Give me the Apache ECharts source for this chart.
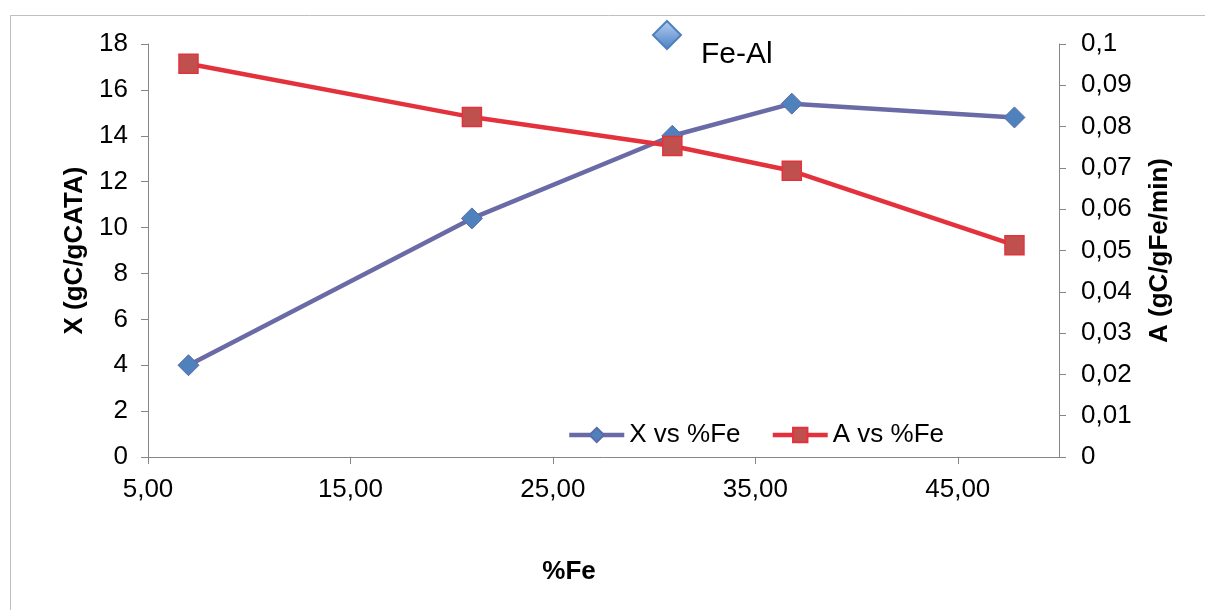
<!DOCTYPE html>
<html>
<head>
<meta charset="utf-8">
<title>Fe-Al</title>
<script src="https://cdn.jsdelivr.net/npm/echarts@6/dist/echarts.min.js"></script>
<style>
  html, body { margin: 0; padding: 0; background: #fff; }
  #chart { width: 1205px; height: 610px; }
</style>
</head>
<body>
<div id="chart"></div>
<script>
// datos
const fePct = [7, 21, 30.9, 36.8, 47.8]
const xValues = [4.0, 10.4, 14.0, 15.4, 14.8]
const aValues = [0.0952, 0.0823, 0.0753, 0.0693, 0.0513]

const font = 'Liberation Sans, Arial, sans-serif'
const axisGray = '#868686'

function pairs(xs, ys) {
  return xs.map((x, i) => [x, ys[i]])
}

const chart = echarts.init(document.getElementById('chart'))
chart.setOption({
  animation: false,
  textStyle: { fontFamily: font },
  title: {
    text: 'Fe-Al',
    left: 696,
    top: 35,
    textStyle: { fontSize: 30, fontWeight: 'normal', color: '#000', fontFamily: font }
  },
  graphic: [
    {
      // marco exterior
      type: 'rect',
      z: -10,
      shape: { x: 10.5, y: 15.5, width: 1210, height: 610 },
      style: { fill: 'none', stroke: '#BFBFBF', lineWidth: 1 }
    },
    {
      type: 'polygon',
      shape: { points: [[667, 21], [681, 35], [667, 49], [653, 35]] },
      style: {
        fill: new echarts.graphic.LinearGradient(0, 0, 0, 1, [
          { offset: 0, color: '#B7D0F2' },
          { offset: 1, color: '#4A7FC4' }
        ]),
        stroke: '#4F81BD',
        lineWidth: 2
      }
    }
  ],
  legend: {
    left: 562,
    top: 417,
    itemWidth: 55,
    itemHeight: 18,
    itemGap: 30,
    lineStyle: { width: 4.5 },
    textStyle: { fontSize: 26, color: '#000', fontFamily: font },
    data: ['X vs %Fe', 'A vs %Fe']
  },
  grid: {
    left: 148,
    right: 146,
    top: 44,
    bottom: 153
  },
  xAxis: {
    type: 'value',
    min: 5,
    max: 50,
    interval: 10,
    name: '%Fe',
    nameLocation: 'middle',
    nameGap: 102,
    nameTextStyle: { fontSize: 26, fontWeight: 'bold', color: '#000', padding: [0, 69, 0, 0] },
    axisLine: { lineStyle: { color: axisGray } },
    axisTick: { length: 7, lineStyle: { color: axisGray } },
    splitLine: { show: false },
    axisLabel: {
      fontSize: 26,
      color: '#000',
      margin: 20,
      showMaxLabel: false,
      formatter: v => v.toFixed(2).replace('.', ',')
    }
  },
  yAxis: [
    {
      type: 'value',
      min: 0,
      max: 18,
      interval: 2,
      name: 'X (gC/gCATA)',
      nameLocation: 'middle',
      nameRotate: 90,
      nameGap: 59,
      nameTextStyle: { fontSize: 26, fontWeight: 'bold', color: '#000' },
      axisLine: { show: true, lineStyle: { color: axisGray } },
      axisTick: { show: true, length: 7, lineStyle: { color: axisGray } },
      splitLine: { show: false },
      axisLabel: { fontSize: 26, color: '#000', margin: 20 }
    },
    {
      type: 'value',
      min: 0,
      max: 0.1,
      interval: 0.01,
      position: 'right',
      name: 'A (gC/gFe/min)',
      nameLocation: 'middle',
      nameRotate: 90,
      nameGap: 88,
      nameTextStyle: { fontSize: 26, fontWeight: 'bold', color: '#000' },
      axisLine: { show: true, lineStyle: { color: axisGray } },
      axisTick: { show: true, length: 7, lineStyle: { color: axisGray } },
      splitLine: { show: false },
      axisLabel: {
        fontSize: 26,
        color: '#000',
        margin: 22,
        formatter: v => (v === 0 ? '0' : String(+v.toFixed(2)).replace('.', ','))
      }
    }
  ],
  series: [
    {
      name: 'X vs %Fe',
      type: 'line',
      yAxisIndex: 0,
      data: pairs(fePct, xValues),
      symbol: 'diamond',
      symbolSize: 21,
      lineStyle: { color: '#6A6AA6', width: 4.5 },
      itemStyle: { color: '#4F81BD', borderColor: '#5B6BA8', borderWidth: 1 }
    },
    {
      name: 'A vs %Fe',
      type: 'line',
      yAxisIndex: 1,
      data: pairs(fePct, aValues),
      symbol: 'rect',
      symbolSize: 19,
      lineStyle: { color: '#E4323C', width: 4.5 },
      itemStyle: { color: '#C0504D', borderColor: '#E4323C', borderWidth: 1.5 }
    }
  ]
})
</script>
</body>
</html>
